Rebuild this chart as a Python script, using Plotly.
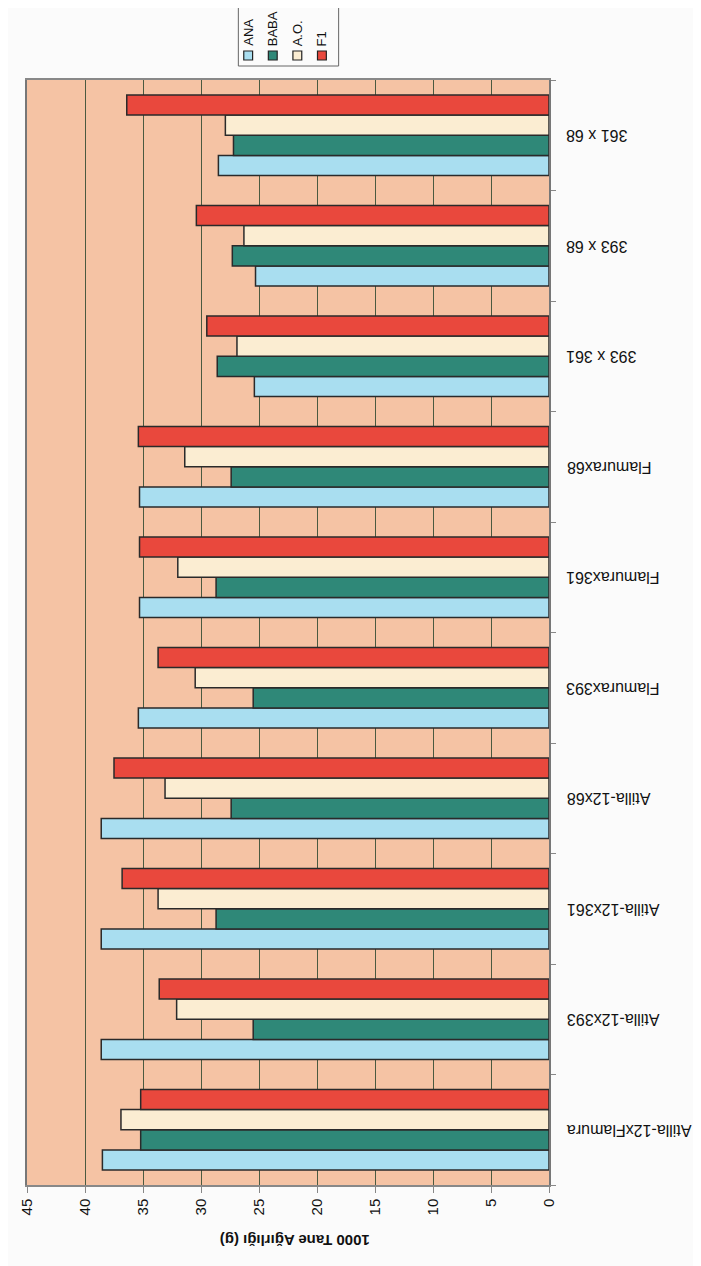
import plotly.graph_objects as go

categories = ["Atilla-12xFlamura", "Atilla-12x393", "Atilla-12x361", "Atilla-12x68",
              "Flamurax393", "Flamurax361", "Flamurax68", "393 x 361", "393 x 68", "361 x 68"]
series_names = ["ANA", "BABA", "A.O.", "F1"]
ana = [38.5, 38.6, 38.6, 38.6, 35.4, 35.3, 35.3, 25.4, 25.3, 28.5]
baba = [35.2, 25.5, 28.7, 27.4, 25.5, 28.7, 27.4, 28.6, 27.3, 27.2]
ao = [36.9, 32.1, 33.7, 33.1, 30.5, 32.0, 31.4, 26.9, 26.3, 27.9]
f1 = [35.2, 33.6, 36.8, 37.5, 33.7, 35.3, 35.4, 29.5, 30.4, 36.4]
x_ticks = [0, 5, 10, 15, 20, 25, 30, 35, 40, 45]
axis_title = "1000 Tane Ağırlığı (g)"

colors = ["#a9def0", "#2f8878", "#fbedd2", "#e9483d"]
values = [ana, baba, ao, f1]

FONT = "Liberation Sans, Arial, sans-serif"

# the page body adds an 8px margin, so the figure is drawn 8px smaller
OFF = 8
FW, FH = 701 - OFF, 1266 - OFF
# plot area in reference px: x 18..549, y 80..1185
L, R, T, B = 18, 549, 80, 1185
W, H = R - L, B - T

def px(x):
    return (x - L) / W

def py(y):
    return (B - y) / H

fig = go.Figure()
for name, vals, col in zip(series_names, values, colors):
    fig.add_trace(go.Bar(
        y=categories, x=vals, name=name, orientation="h",
        marker=dict(color=col, line=dict(color="#2a2a2a", width=1.5)),
        showlegend=False,
    ))

shapes = []
annotations = []
# legend box
shapes.append(dict(type="rect", xref="paper", yref="paper",
                   x0=px(233), x1=px(335), y0=py(66), y1=py(-5),
                   line=dict(color="#666666", width=1), fillcolor="#fbfbfb", layer="above"))
for i, (name, col) in enumerate(zip(series_names, colors)):
    cx = 243 + 25 * i
    shapes.append(dict(type="rect", xref="paper", yref="paper",
                       x0=px(cx - 4.5), x1=px(cx + 4.5), y0=py(60), y1=py(51),
                       line=dict(color="#222222", width=1.2), fillcolor=col, layer="above"))
    annotations.append(dict(text=name, xref="paper", yref="paper",
                            x=px(cx), y=py(48), xanchor="center", yanchor="bottom",
                            textangle=-90, showarrow=False,
                            font=dict(family=FONT, size=13, color="#111111")))

# category labels, upside down, to the right of the axis
for cat in categories:
    annotations.append(dict(text=cat, xref="paper", yref="y",
                            x=px(565), y=cat, xanchor="left", yanchor="middle",
                            textangle=180, showarrow=False,
                            font=dict(family=FONT, size=16, color="#111111")))

annotations.append(dict(text="<b>" + axis_title + "</b>", xref="paper", yref="paper",
                        x=px(290), y=py(1241), xanchor="center", yanchor="middle",
                        textangle=180, showarrow=False,
                        font=dict(family=FONT, size=15, color="#111111")))

fig.update_layout(
    width=FW, height=FH,
    margin=dict(l=L - OFF, r=701 - R, t=T - OFF, b=1266 - B),
    paper_bgcolor="#fbfbfb",
    plot_bgcolor="#f5c3a4",
    barmode="group",
    bargap=0.27,
    bargroupgap=0.0,
    shapes=shapes,
    annotations=annotations,
    xaxis=dict(
        range=[45, 0], tickvals=x_ticks, ticktext=[str(v) for v in x_ticks],
        tickangle=-90, showgrid=True, gridcolor="#4a5a40", gridwidth=1,
        zeroline=False, showline=True, linecolor="#888888", linewidth=1.5,
        mirror=True, ticks="outside", ticklen=6, tickcolor="#888888",
        tickfont=dict(family=FONT, size=15, color="#111111"),
    ),
    yaxis=dict(
        side="right", showticklabels=False, showgrid=False, showline=True,
        linecolor="#777777", linewidth=1.5, mirror=True,
        ticks="outside", tickson="boundaries", ticklen=5, tickcolor="#888888",
    ),
)

fig.write_html("out.html")
